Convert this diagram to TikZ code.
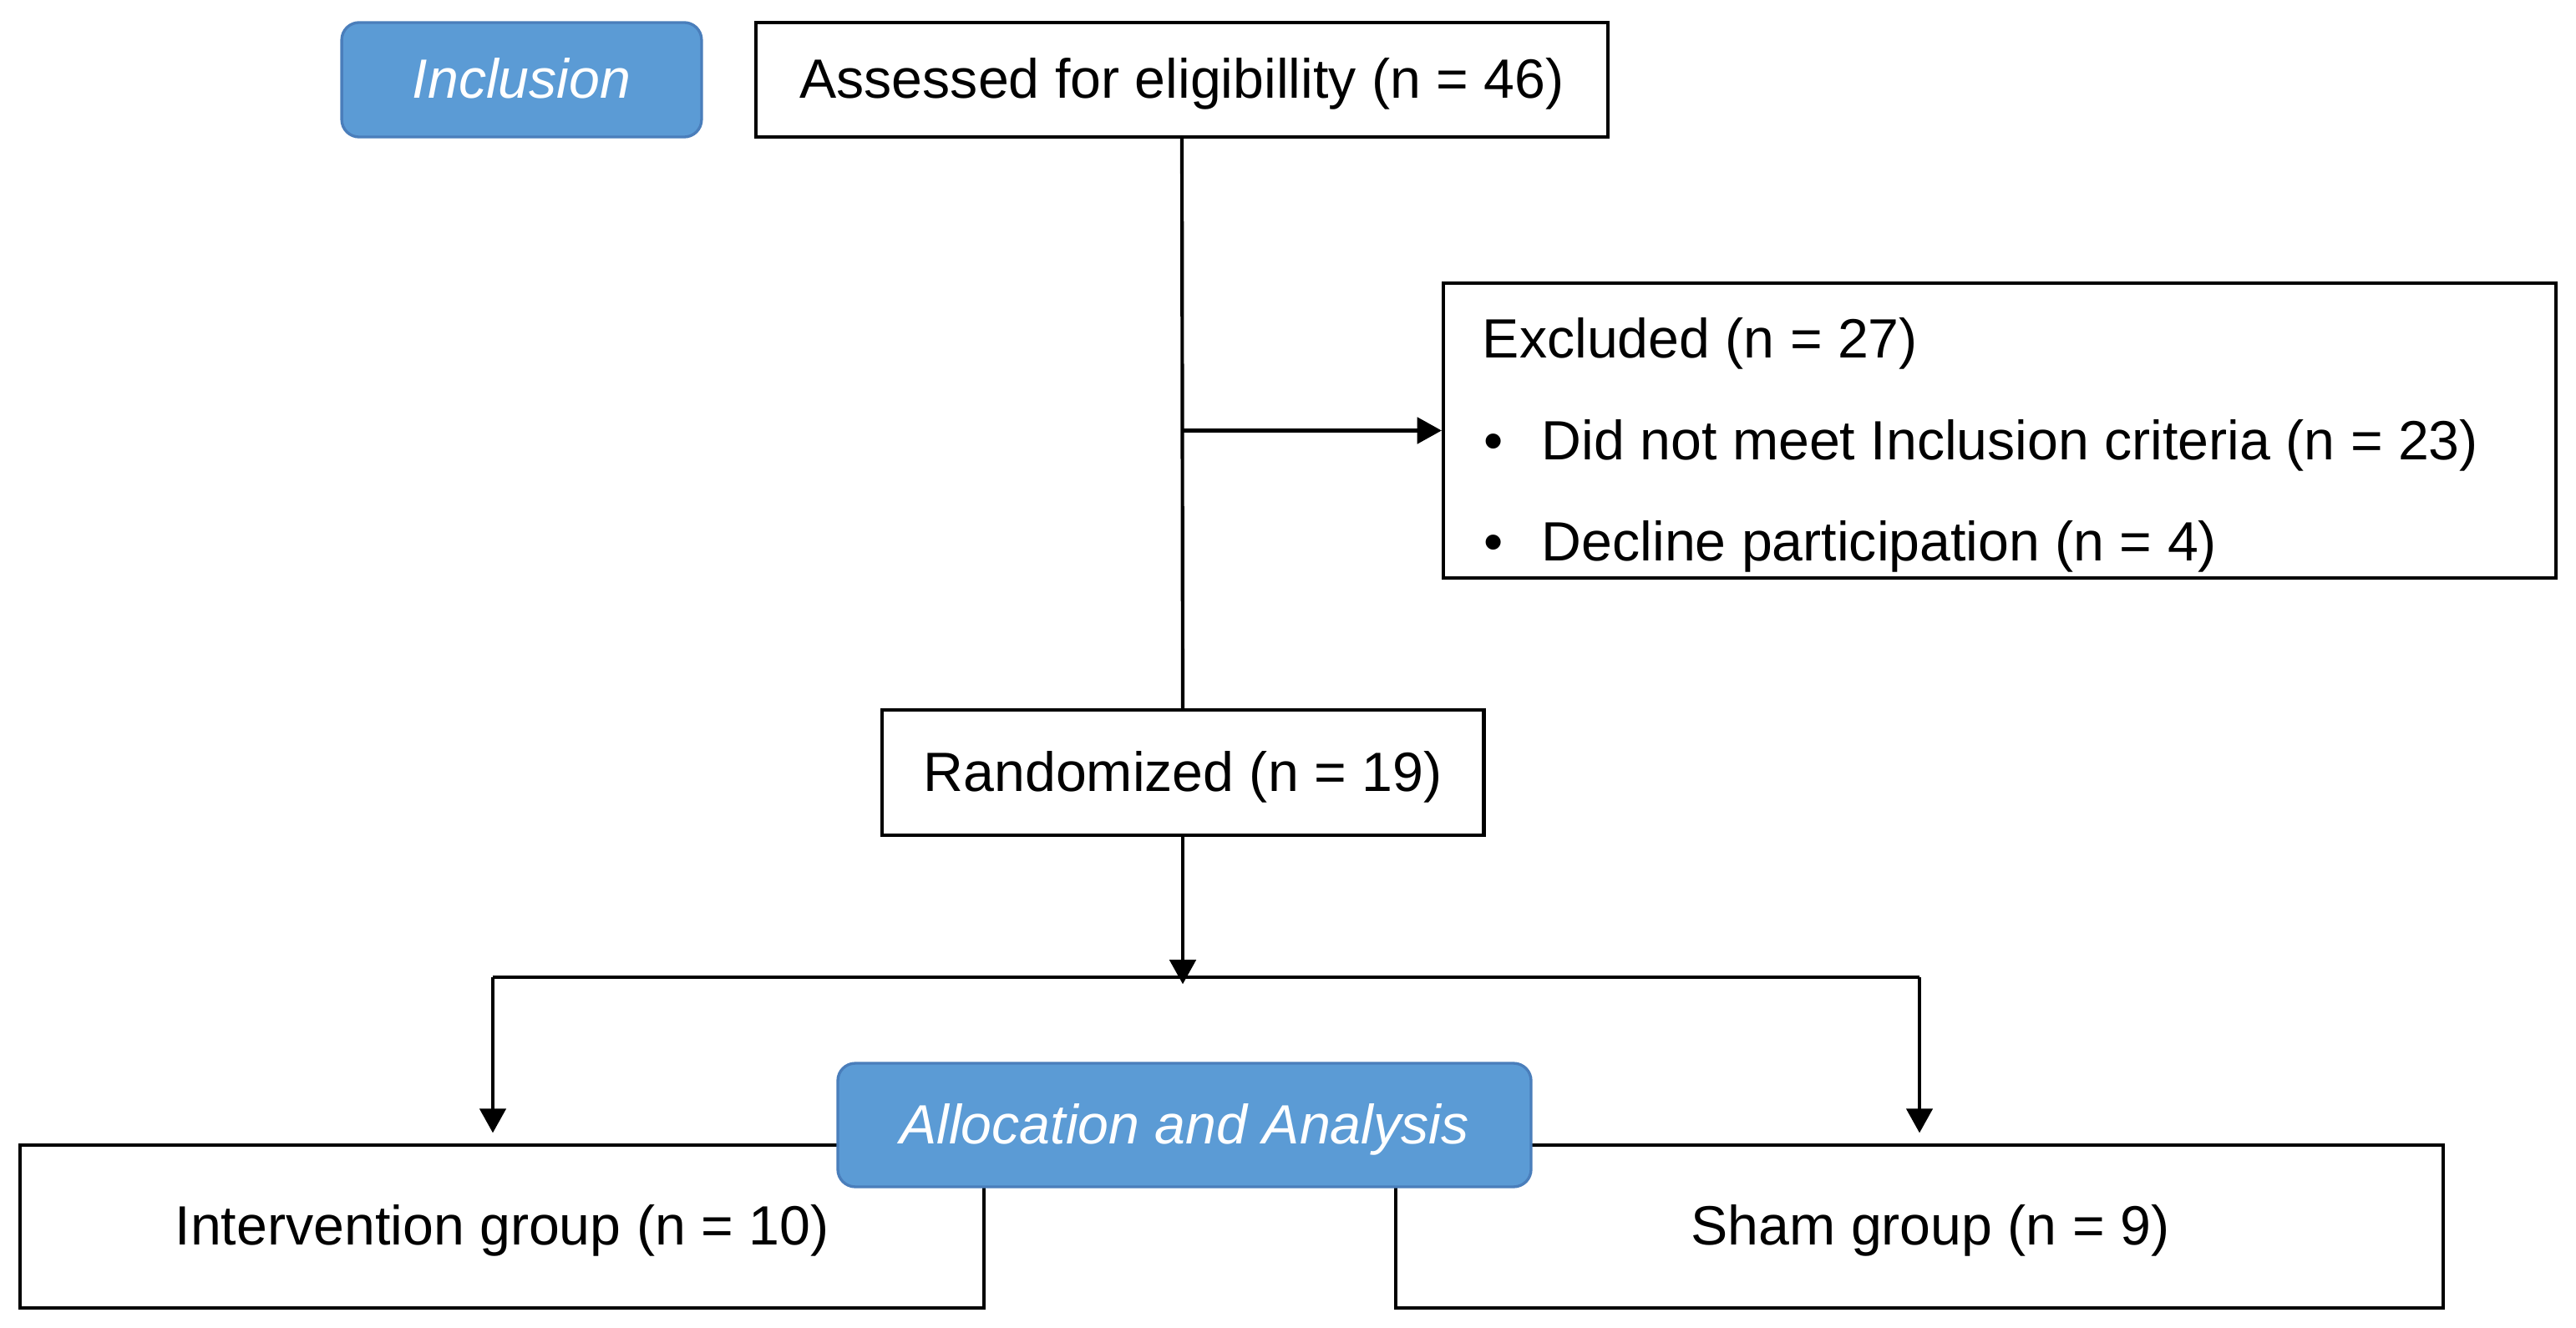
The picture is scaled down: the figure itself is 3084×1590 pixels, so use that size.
\documentclass[tikz,border=0pt]{standalone}
\usepackage{fontspec}
\setmainfont{Liberation Sans}
\usetikzlibrary{arrows.meta}
\definecolor{tagblue}{HTML}{5B9BD5}
\definecolor{tagedge}{HTML}{4A7EBB}
\begin{document}
\begin{tikzpicture}[x=0.24pt,y=-0.24pt,
  txt/.style={font=\fontsize{15.9}{19}\selectfont},
  flowbox/.style={txt, draw=black, line width=1pt, fill=white, inner sep=0pt,
     text height=11.6pt, text depth=1pt},
  tagbox/.style={txt, draw=tagedge, line width=0.8pt, fill=tagblue, text=white,
     rounded corners=5pt, inner sep=0pt, font=\fontsize{15.9}{19}\selectfont\itshape,
     text height=11.6pt, text depth=1pt},
  conn/.style={line width=1pt, draw=black},
  arr/.style={conn, -{Triangle[length=7pt,width=7.5pt]}}]
\useasboundingbox (0,0) rectangle (3084,1590);
\fill[white] (0,0) rectangle (3084,1590);

\node[tagbox, minimum width=103.4pt, minimum height=32.9pt] (incl) at (624.5,95.5) {Inclusion};
\node[flowbox, minimum width=244.8pt, minimum height=32.9pt] (assess) at (1415,95.5) {Assessed for eligibillity (n = 46)};
\node[flowbox, minimum width=319.7pt, minimum height=84.7pt] (excl) at (2394,515.5) {};
\node[txt, anchor=base west, inner sep=0pt] (exh) at (1774,429) {Excluded (n = 27)};
\node[txt, anchor=base west, inner sep=0pt] (exb1) at (1776,551) {\textbullet};
\node[txt, anchor=base west, inner sep=0pt] (ext1) at (1845,551) {Did not meet Inclusion criteria (n = 23)};
\node[txt, anchor=base west, inner sep=0pt] (exb2) at (1776,672) {\textbullet};
\node[txt, anchor=base west, inner sep=0pt] (ext2) at (1845,672) {Decline participation (n = 4)};
\node[flowbox, minimum width=173pt, minimum height=36pt] (rand) at (1416,925) {Randomized (n = 19)};
\node[flowbox, minimum width=277pt, minimum height=46.8pt] (interv) at (601,1468.5) {Intervention group (n = 10)};
\node[flowbox, minimum width=301pt, minimum height=46.8pt] (sham) at (2298,1468.5) {\hspace*{6.2pt}Sham group (n = 9)};
\node[tagbox, minimum width=199.2pt, minimum height=35.5pt] (alloc) at (1418,1347) {Allocation and Analysis};

\coordinate (split) at (1416,1170);
\coordinate (jl) at (590,1170);
\coordinate (jr) at (2298,1170);

\draw[conn] (assess.south) -- (rand.north);
\draw[arr] (assess.south |- excl.west) -- (excl.west);
\draw[arr, shorten >=-2pt] (rand.south) -- (split);
\draw[conn] (jl) -- (jr);
\draw[arr, shorten >=3pt] (jl) -- (jl |- interv.north);
\draw[arr, shorten >=3pt] (jr) -- (sham.north);
\end{tikzpicture}
\end{document}
